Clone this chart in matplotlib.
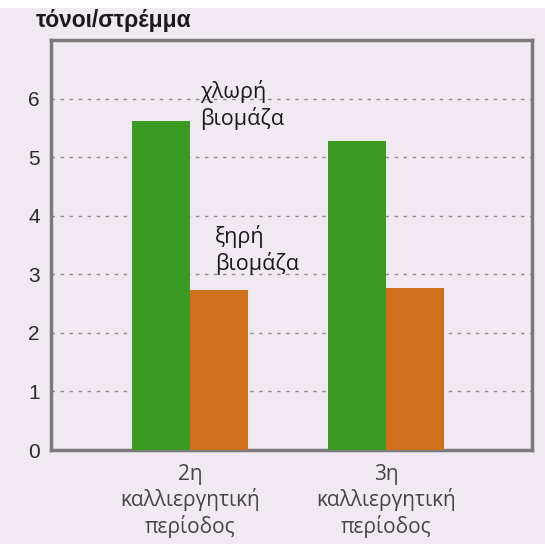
import matplotlib
matplotlib.use("Agg")
import matplotlib.pyplot as plt
from matplotlib.patches import Rectangle

categories = ["2η\nκαλλιεργητική\nπερίοδος", "3η\nκαλλιεργητική\nπερίοδος"]
green_biomass = [5.61, 5.27]
dry_biomass = [2.74, 2.77]
yticks = [0, 1, 2, 3, 4, 5, 6]
ylabel = "τόνοι/στρέμμα"
green_label = "χλωρή\nβιομάζα"
dry_label = "ξηρή\nβιομάζα"

W, H = 545, 544
bg = "#f1e9f1"
fig = plt.figure(figsize=(W / 100, H / 100), dpi=100, facecolor=bg)
fig.patches.append(Rectangle((0, 1 - 8 / H), 1, 8 / H, transform=fig.transFigure,
                             facecolor="white", edgecolor="none", zorder=0))

ax = fig.add_axes([51 / W, 1 - 450 / H, (532 - 51) / W, (450 - 40) / H])
ax.set_facecolor(bg)

x = list(range(len(categories)))
w = 0.298
ax.bar([i - w / 2 for i in x], green_biomass, width=w, color="#3a9a22", zorder=3)
ax.bar([i + w / 2 for i in x], dry_biomass, width=w, color="#d0701a", zorder=3)

ax.set_xlim(-0.709, 1.745)
ax.set_ylim(0, 7.0)

for v in yticks[1:]:
    ax.axhline(v, color="#8a8a8a", lw=1.0, ls=(0, (2.5, 4)), zorder=1)

ax.set_yticks(yticks)
ax.set_yticklabels([str(t) for t in yticks], fontsize=15, color="#2a2a2a",
                   family="Liberation Sans")
ax.set_xticks(x)
ax.set_xticklabels(categories, fontsize=15, color="#444444", family="Open Sans",
                   linespacing=1.2)
ax.tick_params(axis="both", length=0)
ax.tick_params(axis="y", pad=8)
ax.tick_params(axis="x", pad=10)

for s in ax.spines.values():
    s.set_color("#7a7a7a")
    s.set_linewidth(2.5)

ax.text(200 / W, 1 - 80 / H, green_label, transform=fig.transFigure, fontsize=15.5,
        family="Open Sans", color="#1a1a1a", va="top", ha="left", linespacing=1.25)
ax.text(215 / W, 1 - 225 / H, dry_label, transform=fig.transFigure, fontsize=15.5,
        family="Open Sans", color="#1a1a1a", va="top", ha="left", linespacing=1.2)

fig.text(36 / W, 1 - 21 / H, ylabel, fontsize=16.5, fontweight="bold",
         family="Liberation Sans", color="#1a1a1a", va="center", ha="left")

fig.savefig("out.png", dpi=100, facecolor=bg)
